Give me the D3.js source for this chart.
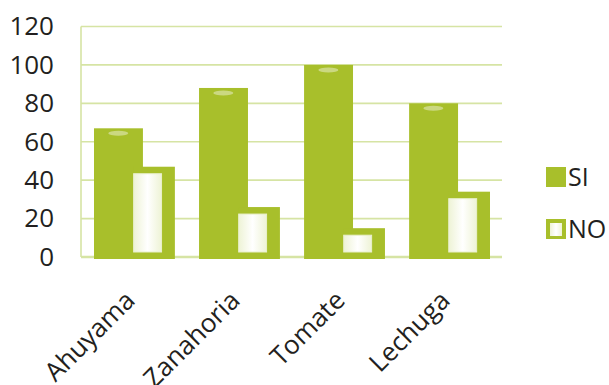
<!DOCTYPE html>
<html>
<head>
<meta charset="utf-8">
<script src="https://cdn.jsdelivr.net/npm/d3@7"></script>
<style>
  body { margin: 0; background: #fff; }
  svg text { font-family: "Open Sans", "Noto Sans", sans-serif; fill: #231f20; }
</style>
</head>
<body>
<div class="svg-container"></div>
<script>
const categories = ['Ahuyama', 'Zanahoria', 'Tomate', 'Lechuga'];
const siValues = [67, 88, 100, 80];
const noValues = [47, 26, 15, 34];
const yTicks = [0, 20, 40, 60, 80, 100, 120];
const seriesNames = ['SI', 'NO'];

const width = 609;
const height = 385;
const green = '#a8bf2b';
const gridColour = '#d6e4a4';

const svg = d3.select('.svg-container')
  .append('svg')
  .attr('width', width)
  .attr('height', height);

// soft gradient for the pale "NO" bars
const defs = svg.append('defs');
const grad = defs.append('linearGradient').attr('id', 'noFill')
  .attr('x1', '0%').attr('x2', '100%').attr('y1', '0%').attr('y2', '0%');
grad.append('stop').attr('offset', '0%').attr('stop-color', '#eef3d6');
grad.append('stop').attr('offset', '50%').attr('stop-color', '#ffffff');
grad.append('stop').attr('offset', '100%').attr('stop-color', '#eef3d6');

const plotLeft = 81;
const plotRight = 502;

const y = d3.scaleLinear().domain([0, 120]).range([257, 26.5]);
const x = d3.scaleBand().domain(categories).range([94, 490]).paddingInner(0.23).paddingOuter(0);
const bw = x.bandwidth();

// grid lines
svg.append('g')
  .selectAll('line')
  .data(yTicks)
  .enter()
  .append('line')
  .attr('x1', plotLeft)
  .attr('x2', plotRight)
  .attr('y1', (d) => y(d))
  .attr('y2', (d) => y(d))
  .attr('stroke', gridColour)
  .attr('stroke-width', (d) => d === 0 ? 2.5 : 1.6);

svg.append('line')
  .attr('x1', plotLeft).attr('x2', plotLeft)
  .attr('y1', y(120)).attr('y2', y(0))
  .attr('stroke', gridColour).attr('stroke-width', 1.6);

// y axis labels
const yAxis = d3.axisLeft(y).tickValues(yTicks).tickSize(0).tickPadding(0);
const yg = svg.append('g')
  .attr('transform', 'translate(54,0)')
  .call(yAxis);
yg.select('.domain').remove();
yg.selectAll('text')
  .attr('font-size', 26)
  .attr('font-family', '"Open Sans", sans-serif')
  .attr('fill', '#231f20');

// bars
const groups = svg.append('g')
  .selectAll('g')
  .data(categories)
  .enter()
  .append('g')
  .attr('transform', (d) => `translate(${x(d)},0)`);

groups.append('rect')
  .attr('x', 0)
  .attr('width', bw * 0.605)
  .attr('y', (d, i) => y(siValues[i]))
  .attr('height', (d, i) => y(0) - y(siValues[i]) + 2)
  .attr('fill', green);

// small highlight on top of SI bars
groups.append('ellipse')
  .attr('cx', bw * 0.3)
  .attr('cy', (d, i) => y(siValues[i]) + 5)
  .attr('rx', 10)
  .attr('ry', 2.5)
  .attr('fill', '#d3df97')
  .attr('opacity', 0.8);

groups.append('rect')
  .attr('x', bw * 0.49)
  .attr('width', bw * 0.51)
  .attr('y', (d, i) => y(noValues[i]))
  .attr('height', (d, i) => y(0) - y(noValues[i]) + 2)
  .attr('fill', green);

groups.append('rect')
  .attr('x', bw * 0.49)
  .attr('width', bw * 0.345)
  .attr('y', (d, i) => y(noValues[i]) + 7)
  .attr('height', (d, i) => y(0) - y(noValues[i]) - 12)
  .attr('fill', 'url(#noFill)')
  .attr('stroke', '#e9f0cc')
  .attr('stroke-width', 1);

// x labels
svg.append('g')
  .selectAll('text')
  .data(categories)
  .enter()
  .append('text')
  .attr('transform', (d) => `translate(${x(d) + bw / 2 + 2},302) rotate(-45)`)
  .attr('text-anchor', 'end')
  .attr('font-size', 26)
  .text((d) => d);

// legend
const legend = svg.append('g')
  .selectAll('g')
  .data(seriesNames)
  .enter()
  .append('g')
  .attr('transform', (d, i) => `translate(546,${167 + i * 52})`);

legend.append('rect')
  .attr('width', 20).attr('height', 20)
  .attr('fill', green);

legend.filter((d) => d === 'NO')
  .append('rect')
  .attr('x', 4).attr('y', 4)
  .attr('width', 12).attr('height', 13)
  .attr('fill', 'url(#noFill)');

legend.append('text')
  .attr('x', 22)
  .attr('y', 19)
  .attr('font-size', 25)
  .text((d) => d);
</script>
</body>
</html>
